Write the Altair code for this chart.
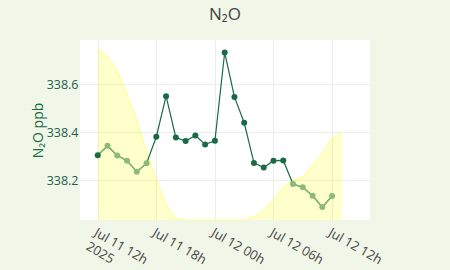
import altair as alt
import pandas as pd

# hourly N2O values
times = [
    "2025-07-11T12:00:00Z", "2025-07-11T13:00:00Z", "2025-07-11T14:00:00Z",
    "2025-07-11T15:00:00Z", "2025-07-11T16:00:00Z", "2025-07-11T17:00:00Z",
    "2025-07-11T18:00:00Z", "2025-07-11T19:00:00Z", "2025-07-11T20:00:00Z",
    "2025-07-11T21:00:00Z", "2025-07-11T22:00:00Z", "2025-07-11T23:00:00Z",
    "2025-07-12T00:00:00Z", "2025-07-12T01:00:00Z", "2025-07-12T02:00:00Z",
    "2025-07-12T03:00:00Z", "2025-07-12T04:00:00Z", "2025-07-12T05:00:00Z",
    "2025-07-12T06:00:00Z", "2025-07-12T07:00:00Z", "2025-07-12T08:00:00Z",
    "2025-07-12T09:00:00Z", "2025-07-12T10:00:00Z", "2025-07-12T11:00:00Z",
    "2025-07-12T12:00:00Z",
]
n2o = [338.305, 338.344, 338.304, 338.282, 338.236, 338.271, 338.382, 338.551,
       338.379, 338.364, 338.387, 338.350, 338.365, 338.733, 338.548, 338.440,
       338.273, 338.254, 338.282, 338.283, 338.185, 338.171, 338.136, 338.089,
       338.135]
phase = ["night", "day", "day", "day", "day", "day",
         "night", "night", "night", "night", "night", "night", "night",
         "night", "night", "night", "night", "night", "night", "night",
         "day", "day", "day", "day", "day"]
segment = ["a", "a", "a", "a", "a", "a",
           None, None, None, None, None, None, None,
           None, None, None, None, None, None, None,
           "b", "b", "b", "b", "b"]

# solar / daylight background
solar_times = times + ["2025-07-12T13:00:00Z"]
solar = [950, 911, 828, 700, 556, 378, 222, 85, 8,
         0, 0, 0, 0, 0, 0, 0,
         17, 56, 111, 183, 222, 239, 306, 367, 456, 483]

y_ticks = [338.2, 338.4, 338.6]

DARK = "#1a6a46"
LIGHT = "#8cbb78"
BG = "#f0f6e8"

df = pd.DataFrame({"time": times, "n2o": n2o, "phase": phase, "seg": segment})
sf = pd.DataFrame({"time": solar_times, "solar": solar})

x_scale = alt.Scale(
    type="utc",
    domain=[
        alt.DateTime(year=2025, month=7, date=11, hours=10, minutes=11, utc=True),
        alt.DateTime(year=2025, month=7, date=12, hours=15, minutes=53, utc=True),
    ],
)
x_axis = alt.Axis(
    values=[
        alt.DateTime(year=2025, month=7, date=11, hours=12, utc=True),
        alt.DateTime(year=2025, month=7, date=11, hours=18, utc=True),
        alt.DateTime(year=2025, month=7, date=12, hours=0, utc=True),
        alt.DateTime(year=2025, month=7, date=12, hours=6, utc=True),
        alt.DateTime(year=2025, month=7, date=12, hours=12, utc=True),
    ],
    labelExpr="utcFormat(datum.value, '%d %H') == '11 12' ? ['Jul 11 12h', '2025'] : utcFormat(datum.value, '%b %d %Hh')",
    labelAngle=30,
    labelAlign="left",
    labelBaseline="top",
    labelPadding=6,
    labelFontSize=13,
    labelFont="Open Sans",
    labelColor="#444444",
    labelLineHeight=16,
    labelOverlap=False,
    ticks=False,
    domain=False,
    grid=True,
    gridColor="#ececec",
    title=None,
)
y_scale = alt.Scale(domain=[338.035, 338.785], nice=False, zero=False)
y_axis = alt.Axis(
    orient="left",
    values=y_ticks,
    format=".1f",
    labelFontSize=12.5,
    labelFont="Open Sans",
    labelColor="#1d5e4c",
    labelPadding=2,
    ticks=False,
    domain=False,
    grid=True,
    gridColor="#ececec",
    title="N₂O ppb",
    titleFont="Open Sans",
    titleFontSize=14,
    titleFontWeight="normal",
    titleColor=DARK,
    titleAngle=-90,
    titleX=-42,
    titleY=90,
    titleAlign="center",
    titleBaseline="middle",
)

area = alt.Chart(sf).mark_area(
    color="#ffff00", fillOpacity=0.2,
    line={"color": "#ffff00", "strokeOpacity": 0.45, "strokeWidth": 1},
).encode(
    x=alt.X("time:T", scale=x_scale, axis=x_axis),
    y=alt.Y("solar:Q", scale=alt.Scale(domain=[0, 1000], nice=False), axis=None),
)

dark_line = alt.Chart(df).mark_line(color=DARK, strokeWidth=1.2).encode(
    x=alt.X("time:T", scale=x_scale),
    y=alt.Y("n2o:Q", scale=y_scale, axis=y_axis),
)
light_line = alt.Chart(df).transform_filter("datum.seg != null").mark_line(
    color=LIGHT, strokeWidth=1.2
).encode(
    x=alt.X("time:T", scale=x_scale),
    y=alt.Y("n2o:Q", scale=y_scale),
    detail="seg:N",
)
points = alt.Chart(df).mark_circle(size=36, opacity=1).encode(
    x=alt.X("time:T", scale=x_scale),
    y=alt.Y("n2o:Q", scale=y_scale),
    color=alt.Color("phase:N", scale=alt.Scale(domain=["night", "day"], range=[DARK, LIGHT]), legend=None),
)

n2o_layer = alt.layer(dark_line, light_line, points)

chart = alt.layer(area, n2o_layer).resolve_scale(y="independent").properties(
    width=290,
    height=180,
    title=alt.TitleParams(
        "N₂O", font="Open Sans", fontSize=17, fontWeight="normal",
        color="#444444", anchor="middle", baseline="alphabetic", offset=3,
    ),
    background=BG,
    padding={"left": 80, "top": 40, "right": 80, "bottom": 50},
    autosize=alt.AutoSizeParams(type="none"),
).configure_view(fill="white", stroke=None)

chart.save("out.html", embed_options={"renderer": "svg", "actions": False})
